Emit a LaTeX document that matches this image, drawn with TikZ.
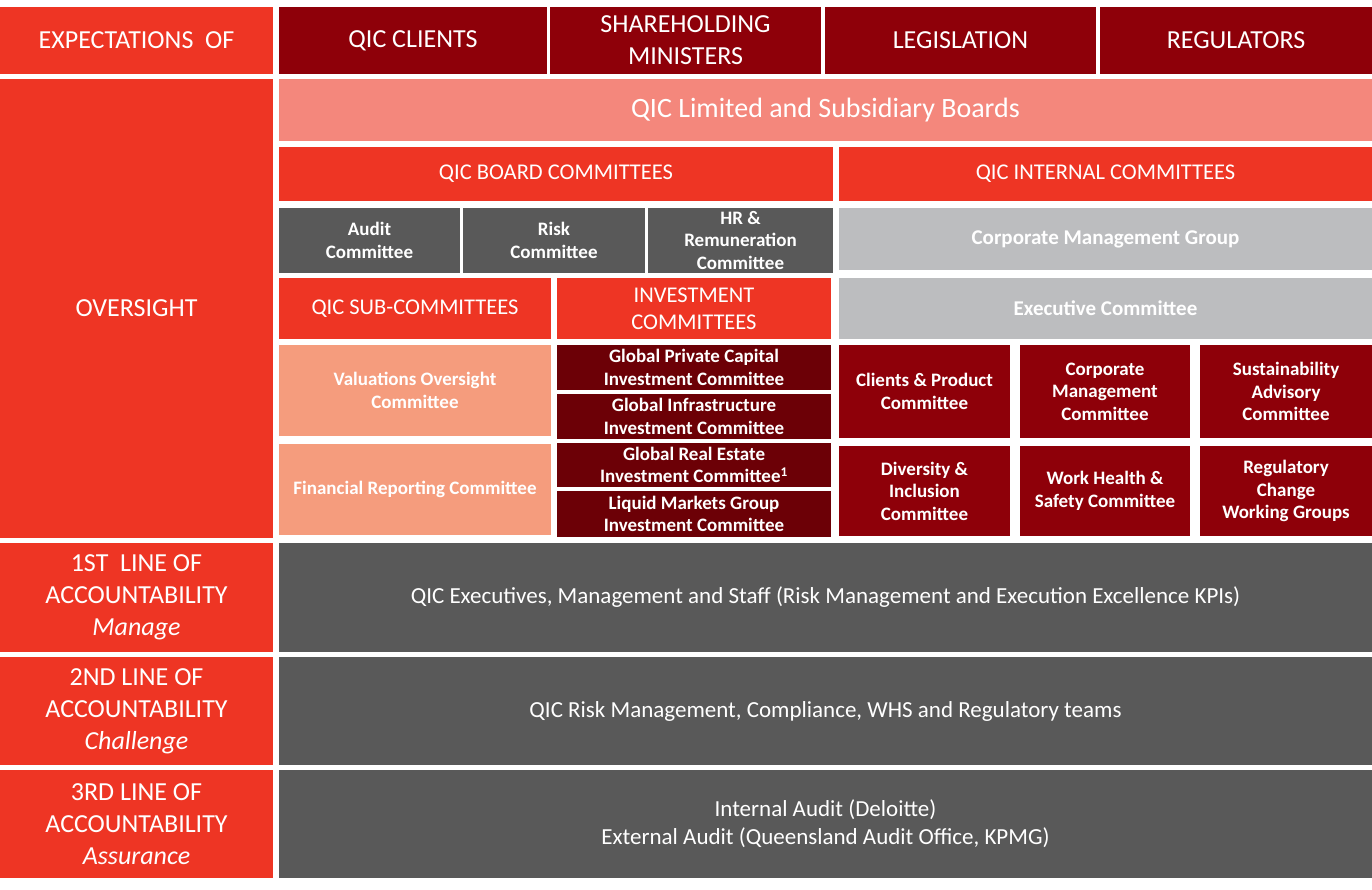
\documentclass[tikz,border=0pt]{standalone}
\usepackage{fontspec}
\setmainfont{Carlito}
\definecolor{qred}{HTML}{EE3524}
\definecolor{qdark}{HTML}{8E0009}
\definecolor{qdarker}{HTML}{6C0006}
\definecolor{qsalmon}{HTML}{F4877C}
\definecolor{qpeach}{HTML}{F59C7D}
\definecolor{qgrey}{HTML}{595959}
\definecolor{qlight}{HTML}{BCBDBF}
\tikzset{
  cell/.style={inner sep=0pt, outer sep=0pt, align=center, text=white},
  big/.style={cell, font=\fontsize{26}{32}\selectfont},
  mid/.style={cell, font=\fontsize{22.5}{27}\selectfont},
  wide/.style={cell, font=\fontsize{23}{28}\selectfont},
  small/.style={cell, font=\fontsize{19}{22.5}\selectfont\bfseries},
  greybold/.style={cell, font=\fontsize{21}{25}\selectfont\bfseries},
  huge/.style={cell, font=\fontsize{28}{32}\selectfont},
}
\newcommand\cellbox[7]{%
  \node[#2, minimum width={(#5-#3)*1pt}, minimum height={(#6-#4)*1pt}] (#1) at ({(#3+#5)/2},{(#4+#6)/2}) {#7};}
\begin{document}
\begin{tikzpicture}[x=1pt,y=-1pt]
\useasboundingbox[fill=white] (0,0) rectangle (1372,889);
% top row
\cellbox{exp}{big,fill=qred}{0}{7}{273}{74}{EXPECTATIONS\ \ OF}
\cellbox{clients}{big,fill=qdark}{279}{7}{547}{74}{QIC CLIENTS}
\cellbox{share}{big,fill=qdark}{550}{7}{821}{74}{SHAREHOLDING\\MINISTERS}
\cellbox{legis}{big,fill=qdark}{825}{7}{1096}{74}{LEGISLATION}
\cellbox{regul}{big,fill=qdark}{1100}{7}{1372}{74}{REGULATORS}
% oversight
\cellbox{over}{big,fill=qred}{0}{79}{273}{538}{OVERSIGHT}
\cellbox{boards}{huge,fill=qsalmon}{279}{79}{1372}{141}{QIC Limited and Subsidiary Boards}
\cellbox{bcomm}{mid,fill=qred}{279}{147}{833}{201}{QIC BOARD COMMITTEES}
\cellbox{icomm}{mid,fill=qred}{839}{147}{1372}{201}{QIC INTERNAL COMMITTEES}
\cellbox{audit}{small,fill=qgrey}{279}{208}{460}{273}{Audit\\Committee}
\cellbox{risk}{small,fill=qgrey}{463}{208}{645}{273}{Risk\\Committee}
\cellbox{hr}{small,fill=qgrey}{648}{208}{833}{273}{HR \&\\Remuneration\\Committee}
\cellbox{cmg}{greybold,fill=qlight}{839}{208}{1372}{270}{Corporate Management Group}
\cellbox{sub}{mid,fill=qred}{279}{278}{551}{339}{QIC SUB-COMMITTEES}
\cellbox{inv}{mid,fill=qred}{557}{278}{831}{339}{INVESTMENT\\COMMITTEES}
\cellbox{exec}{greybold,fill=qlight}{839}{278}{1372}{339}{Executive Committee}
\cellbox{val}{small,fill=qpeach}{279}{345}{551}{436}{Valuations Oversight\\Committee}
\cellbox{fin}{small,fill=qpeach}{279}{444}{551}{535}{Financial Reporting Committee}
\cellbox{gpc}{small,fill=qdarker}{557}{345}{831}{390}{Global Private Capital\\Investment Committee}
\cellbox{gi}{small,fill=qdarker}{557}{394}{831}{439}{Global Infrastructure\\Investment Committee}
\cellbox{gre}{small,fill=qdarker}{557}{443}{831}{487}{Global Real Estate\\Investment Committee\textsuperscript{1}}
\cellbox{lmg}{small,fill=qdarker}{557}{491}{831}{537}{Liquid Markets Group\\Investment Committee}
\cellbox{cp}{small,fill=qdark}{839}{345}{1010}{438}{Clients \& Product\\Committee}
\cellbox{cmc}{small,fill=qdark}{1020}{345}{1190}{438}{Corporate\\Management\\Committee}
\cellbox{sac}{small,fill=qdark}{1200}{345}{1372}{438}{Sustainability\\Advisory\\Committee}
\cellbox{di}{small,fill=qdark}{839}{446}{1010}{536}{Diversity \&\\Inclusion\\Committee}
\cellbox{whs}{small,fill=qdark}{1020}{446}{1190}{536}{Work Health \&\\Safety Committee}
\cellbox{rc}{small,fill=qdark}{1200}{446}{1372}{536}{Regulatory\\Change\\Working Groups}
% lines of accountability
\cellbox{l1}{big,fill=qred}{0}{543}{273}{652}{1ST\ \ LINE OF\\ACCOUNTABILITY\\\textit{Manage}}
\cellbox{r1}{wide,fill=qgrey}{279}{543}{1372}{652}{QIC Executives, Management and Staff (Risk Management and Execution Excellence KPIs)}
\cellbox{l2}{big,fill=qred}{0}{657}{273}{765}{2ND LINE OF\\ACCOUNTABILITY\\\textit{Challenge}}
\cellbox{r2}{wide,fill=qgrey}{279}{657}{1372}{765}{QIC Risk Management, Compliance, WHS and Regulatory teams}
\cellbox{l3}{big,fill=qred}{0}{770}{273}{878}{3RD LINE OF\\ACCOUNTABILITY\\\textit{Assurance}}
\cellbox{r3}{wide,fill=qgrey}{279}{770}{1372}{878}{Internal Audit (Deloitte)\\External Audit (Queensland Audit Office, KPMG)}
\end{tikzpicture}
\end{document}
